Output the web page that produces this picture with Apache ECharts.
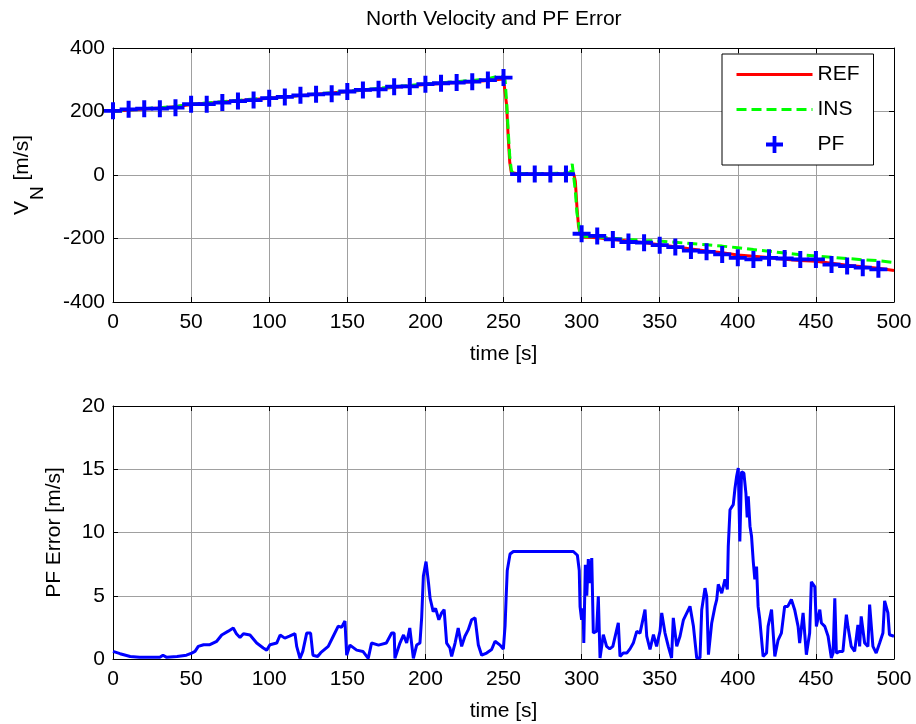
<!DOCTYPE html>
<html><head><meta charset="utf-8">
<script src="https://cdn.jsdelivr.net/npm/echarts@6/dist/echarts.min.js"></script>
<style>html,body{margin:0;padding:0;background:#fff}#c{width:916px;height:724px}</style>
</head><body><div id="c"></div>
<script>
// ---- data ----
const refTime = [0,10,20,30,40,50,60,70,80,90,100,110,120,130,140,150,160,170,180,190,200,210,220,230,240,250,251,252,253,254,255,256,260,270,280,290,295,296,297,298,299,301,310,320,330,340,350,360,370,380,390,400,410,420,430,440,450,460,470,480,490,500];
const refVel  = [200,205,208,211,215,222,226,230,234,238,242,246,250,254,258,263,267,271,276,280,285,288,291,294,298,302,300,220,120,40,8,3,3,3,3,3,3,-20,-100,-160,-185,-195,-198,-203,-208,-213,-220,-226,-233,-239,-245,-252,-256,-260,-265,-269,-272,-278,-284,-289,-294,-301];
const insTime = [0,10,20,30,40,50,60,70,80,90,100,110,120,130,140,150,160,170,180,190,200,210,220,230,240,248,250,251,252,253,254,255,256,260,270,280,290,293,294,295,296,297,298,299,301,310,320,330,340,350,360,370,380,390,400,410,420,430,440,450,460,470,480,490,500];
const insVel  = [200,205,209,212,216,223,227,231,235,239,243,247,251,255,259,264,268,273,278,282,287,290,294,298,303,313,308,300,230,140,60,15,6,5,5,5,6,8,35,40,-50,-120,-150,-185,-193,-195,-199,-203,-206,-208,-212,-216,-220,-224,-229,-235,-240,-246,-251,-255,-259,-263,-267,-270,-276];
const pfTime = [0,10,20,30,40,50,60,70,80,90,100,110,120,130,140,150,160,170,180,190,200,210,220,230,240,250,260,270,280,290,300,310,320,330,340,350,360,370,380,390,400,410,420,430,440,450,460,470,480,490];
const pfVel  = [202,207,209,209,212,223,223,228,233,236,242,246,251,254,256,263,268,270,278,279,286,289,291,294,299,307,3,3,3,3,-185,-192,-203,-211,-213,-221,-227,-238,-242,-250,-261,-266,-261,-263,-266,-266,-282,-287,-292,-297];
const errTime = [0,4.5,11,17,30,32,34.4,41,47,50.4,52.5,54.6,58,62,66.4,69.6,73.8,77,79,81.3,83.5,87.7,92,96.2,98.4,100.5,104.8,107,110,113,116.5,117.6,119.7,121.5,124,126.5,128,131,133,137.8,141,144.2,146.3,148.5,149.6,151.7,156,160,163.4,165.5,170,175,178.4,180,180.5,183.7,186,188,190,192.3,194.4,196.5,197.6,198.7,200.4,202,203,205,206.5,208.6,210.4,212,213.6,215.7,216.8,219,221,223.2,225.3,227.4,229.6,231.8,233.9,236,239.2,242.4,244.6,247.8,249.9,251,251.7,252.4,254.2,256.3,269,270,271,294.7,297.3,298.5,299,300,301,301.4,302.4,303.3,304.3,305.3,306.5,307.5,309.6,310.7,311.8,313.9,316,318,320,323.5,324.6,326.7,328.9,331,333.1,335.3,337.4,340.6,341.7,343.8,346,348,350.2,351.3,353.4,355.5,357.6,358.7,360.9,363,365.2,369.4,371.6,373.7,375.8,376.9,379,380.1,381.2,383.3,385.4,386.5,387.5,389.7,391.8,393.3,393.9,395,397.1,398.2,399.2,400.3,401.3,402.4,403.9,405.2,406,406.7,407.8,408.8,409.9,410.9,412,413,414.1,416.2,418.4,419.4,421.6,422.6,423.7,425.8,427.9,430,432,434.3,436.4,438.6,439.6,441.8,443.9,446,447.1,449.3,450.3,452.5,453.5,455.7,457.8,459.9,461,462.1,463.1,465.2,467.3,469.5,470.5,472.6,474.8,476.9,478,479,481.2,483.3,484.4,485.4,486.5,488.6,490.8,492.9,494,496.1,497.1,498.2,500];
const errVal  = [0.6,0.42,0.2,0.13,0.13,0.3,0.13,0.2,0.3,0.47,0.6,1.0,1.13,1.13,1.4,1.9,2.2,2.45,2.0,1.7,2.0,1.9,1.26,0.87,0.7,1.13,1.26,1.9,1.65,1.8,2.0,1.0,0.05,0.6,2.05,2.05,0.3,0.2,0.5,1.0,1.8,2.6,2.5,3.0,0.3,1.1,0.7,0.6,0.05,1.26,1.1,1.26,2.05,2.05,0.05,1.26,1.9,1.26,2.45,0.05,1.1,1.26,3.25,6.55,7.7,6.0,4.8,3.75,4.0,3.1,3.65,3.9,1.26,0.87,0.2,1.26,2.45,1.0,1.8,2.3,3.1,3.25,1.1,0.3,0.47,0.75,1.4,1.1,0.78,2.6,4.9,7.0,8.3,8.5,8.5,8.6,8.5,8.5,8.2,7.0,4.15,3.1,4.0,1.26,7.45,5.0,7.9,6.0,7.98,2.05,2.2,4.95,0.08,1.92,1.0,0.8,1.0,2.85,0.2,0.47,0.47,0.8,1.26,2.18,2.05,3.9,1.8,0.75,1.92,1.0,2.2,3.64,2.05,1.0,0.08,3.25,1.0,1.8,3.1,4.16,2.58,0.08,0.08,3.9,5.6,4.95,0.34,2.85,4.16,4.7,5.9,5.2,6.3,5.5,8.9,11.8,12.2,13.5,14.4,15.1,9.3,14.8,14.7,13.1,11.2,12.85,10.5,9.7,7.7,6.3,7.3,4.16,3.1,0.2,0.47,2.58,3.9,3.9,0.2,1.5,2.05,4.16,4.16,4.7,3.9,2.58,1.26,3.64,0.34,2.05,6.1,5.7,2.58,3.9,2.85,2.58,1.8,0.08,0.47,4.8,0.47,0.6,0.6,3.5,2.58,1.0,0.6,2.7,1.0,3.37,1.26,1.0,4.3,4.3,1.0,0.47,1.26,2.05,4.6,3.64,1.92,1.8,1.8];
const seriesNames = ['REF','INS','PF'];
const titleText = 'North Velocity and PF Error';
const xName = 'time [s]';
const topYName = 'V{sub|N} [m/s]';
const botYName = 'PF Error [m/s]';

const zip = (a, b) => a.map((t, i) => [t, b[i]]);
const FONT = 'Liberation Sans, Arial, sans-serif';
const FS = 21;
const plusPath = 'path://M7,0H11V7H18V11H11V18H7V11H0V7H7Z';

function xAxes(gi) {
  return [{
    gridIndex: gi, type: 'value', min: 0, max: 500, interval: 50, position: 'bottom',
    name: xName, nameLocation: 'middle', nameGap: 42,
    nameTextStyle: {fontFamily: FONT, fontSize: FS, color: '#000'},
    axisLine: {onZero: false, lineStyle: {color: '#000', width: 1}},
    axisTick: {inside: true, length: 5, lineStyle: {color: '#000'}},
    axisLabel: {margin: 10, fontFamily: FONT, fontSize: FS, color: '#000'},
    splitLine: {show: true, lineStyle: {color: '#a0a0a0', width: 1}}
  }, {
    gridIndex: gi, type: 'value', min: 0, max: 500, interval: 50, position: 'top',
    axisLine: {onZero: false, lineStyle: {color: '#000', width: 1}},
    axisTick: {inside: true, length: 5, lineStyle: {color: '#000'}},
    axisLabel: {show: false}, splitLine: {show: false}
  }];
}
function yAxes(gi, min, max, interval, name, gap, rich) {
  const ns = {fontFamily: FONT, fontSize: FS, color: '#000'};
  if (rich) ns.rich = rich;
  return [{
    gridIndex: gi, type: 'value', min, max, interval, position: 'left',
    name, nameLocation: 'middle', nameGap: gap, nameTextStyle: ns,
    axisLine: {onZero: false, lineStyle: {color: '#000', width: 1}},
    axisTick: {inside: true, length: 5, lineStyle: {color: '#000'}},
    axisLabel: {margin: 8, fontFamily: FONT, fontSize: FS, color: '#000'},
    splitLine: {show: true, lineStyle: {color: '#a0a0a0', width: 1}}
  }, {
    gridIndex: gi, type: 'value', min, max, interval, position: 'right',
    axisLine: {onZero: false, lineStyle: {color: '#000', width: 1}},
    axisTick: {inside: true, length: 5, lineStyle: {color: '#000'}},
    axisLabel: {show: false}, splitLine: {show: false}
  }];
}

const chart = echarts.init(document.getElementById('c'), null, {renderer: 'canvas'});
chart.setOption({
  animation: false,
  backgroundColor: '#fff',
  title: {text: titleText, left: 366, top: 9, padding: 0,
    textStyle: {fontFamily: FONT, fontSize: FS, fontWeight: 'normal', color: '#000'}},
  grid: [
    {left: 113, right: 22, top: 48, height: 254},
    {left: 113, right: 22, top: 406, height: 253}
  ],
  xAxis: [...xAxes(0), ...xAxes(1)],
  yAxis: [
    ...yAxes(0, -400, 400, 200, topYName, 66, {
      sub: {fontFamily: FONT, fontSize: 19, color: '#000', padding: [30, 0, 0, 1]}
    }),
    ...yAxes(1, 0, 20, 5, botYName, 48)
  ],
  legend: {
    orient: 'vertical', left: 722, top: 54,
    padding: [10, 14, 10, 13], itemGap: 14, itemWidth: 76, itemHeight: 17,
    backgroundColor: '#fff', borderColor: '#000', borderWidth: 1, borderRadius: 0,
    textStyle: {fontFamily: FONT, fontSize: FS, color: '#000', lineHeight: 21},
    lineStyle: {width: 3},
    data: [
      {name: seriesNames[0], itemStyle: {opacity: 0}},
      {name: seriesNames[1], itemStyle: {opacity: 0}},
      {name: seriesNames[2], icon: plusPath}
    ]
  },
  series: [
    {name: seriesNames[0], type: 'line', xAxisIndex: 0, yAxisIndex: 0, data: zip(refTime, refVel),
      showSymbol: false, symbol: 'none', lineStyle: {color: '#ff0000', width: 3}, itemStyle: {color: '#ff0000'}, z: 2},
    {name: seriesNames[1], type: 'line', xAxisIndex: 0, yAxisIndex: 0, data: zip(insTime, insVel),
      showSymbol: false, symbol: 'none', lineStyle: {color: '#00ff00', width: 3, type: [10, 5]}, itemStyle: {color: '#00ff00'}, z: 3},
    {name: seriesNames[2], type: 'scatter', xAxisIndex: 0, yAxisIndex: 0, data: zip(pfTime, pfVel),
      symbol: plusPath, symbolSize: [18, 17], itemStyle: {color: '#0000ff', opacity: 1}, z: 4},
    {name: 'PF Error', type: 'line', xAxisIndex: 2, yAxisIndex: 2, data: zip(errTime, errVal),
      showSymbol: false, symbol: 'none', lineStyle: {color: '#0000ff', width: 3}, z: 3}
  ]
});
</script></body></html>
